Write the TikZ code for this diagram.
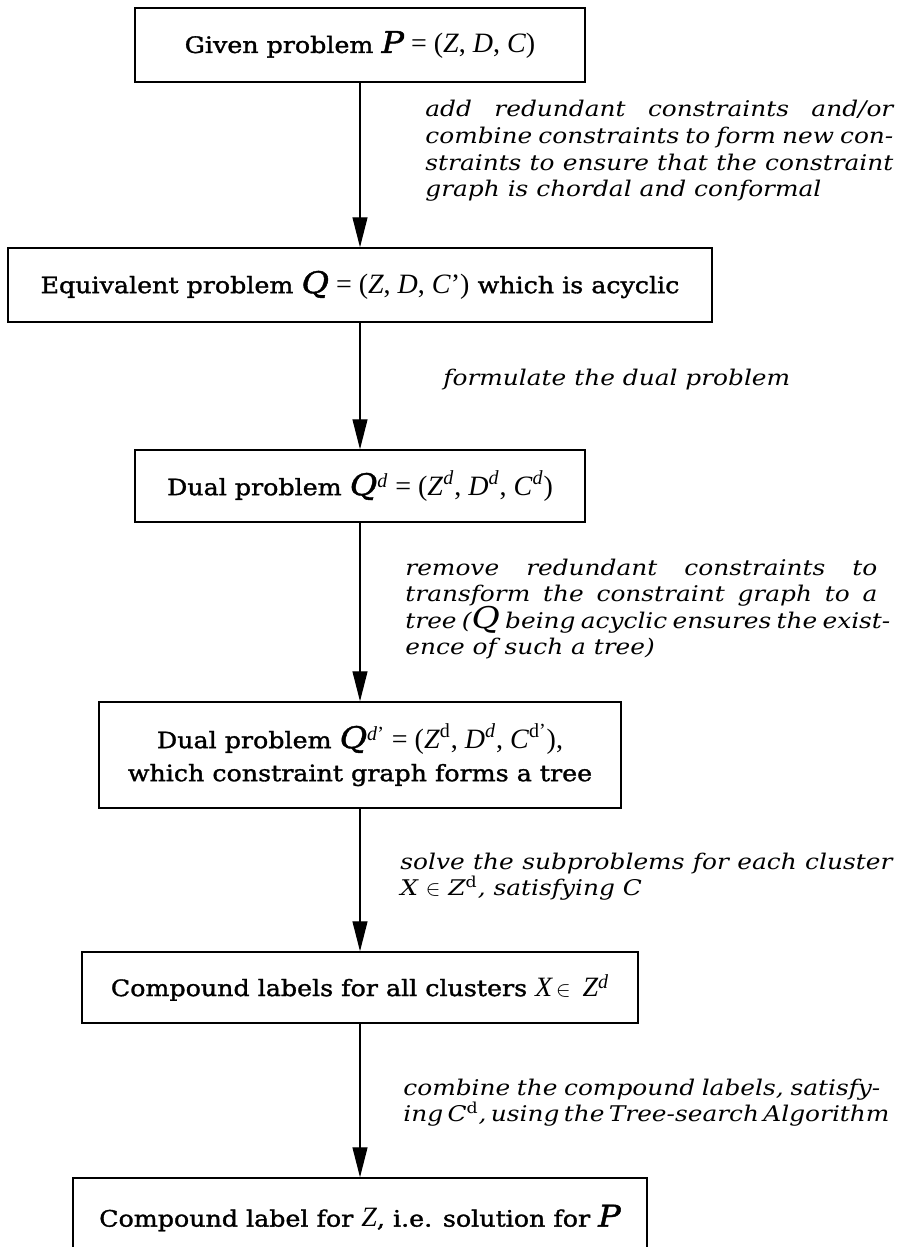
\documentclass[tikz,border=0pt]{standalone}
\usepackage{fontspec}
\setmainfont{DejaVu Serif}
\newfontfamily\boxfont[FakeBold=1.4,FakeStretch=1.12]{DejaVu Serif}
\newfontfamily\notefont[FakeStretch=1.15]{DejaVu Serif}
\newfontfamily\tms{Liberation Serif}
\usetikzlibrary{arrows.meta}

% large italic problem names (P, Q)
\newcommand{\BigV}[1]{{\fontsize{15pt}{15pt}\selectfont\itshape #1}}
% Times italic variable
\newcommand{\TV}[1]{{\tms\fontsize{14pt}{14pt}\selectfont\itshape #1}}
% Times part of a tuple
\newcommand{\TT}[1]{{\tms\fontsize{14pt}{14pt}\selectfont #1}}
% Times superscript
\newcommand{\SU}[1]{\textsuperscript{\tms\fontsize{10pt}{10pt}\selectfont #1}}
% one fully justified line of an annotation
\newcommand{\JL}[1]{\makebox[\linewidth][s]{#1}\par}

\tikzset{
  box/.style={draw, line width=0.75pt, inner sep=0pt, align=center,
    font=\boxfont\fontsize{11.3pt}{16.5pt}\selectfont},
  arr/.style={line width=0.6pt, -{Triangle[length=15pt,width=7.5pt]}},
  note/.style={anchor=base west, inner sep=0pt,
    font=\notefont\fontsize{10.8pt}{13.3pt}\selectfont\itshape},
}

\begin{document}
\begin{tikzpicture}[x=0.5pt,y=-0.5pt]
\clip (0,0) rectangle (905,1247);

\node[box, minimum width=225pt, minimum height=37pt] (b1) at (360,45)
  {Given problem \BigV{P}\TT{ = (\textit{Z}, \textit{D}, \textit{C})}};
\node[box, minimum width=352pt, minimum height=37pt] (b2) at (360,285)
  {Equivalent problem \BigV{Q}\TT{ = (\textit{Z}, \textit{D}, \textit{C}’)} which is acyclic};
\node[box, minimum width=225pt, minimum height=36pt] (b3) at (360,486)
  {Dual problem \BigV{Q}\SU{\textit{d}}\TT{ = (\textit{Z}\SU{\textit{d}}, \textit{D}\SU{\textit{d}}, \textit{C}\SU{\textit{d}})}};
\node[box, minimum width=261pt, minimum height=53pt] (b4) at (360,755)
  {Dual problem \BigV{Q}\SU{\textit{d}’}\TT{ = (\textit{Z}\SU{d}, \textit{D}\SU{\textit{d}}, \textit{C}\SU{d’}),}\\
   which constraint graph forms a tree};
\node[box, minimum width=278pt, minimum height=35.5pt] (b5) at (360,987.5)
  {Compound labels for all clusters \TV{X}\,$\in$\, \TV{Z}\SU{\textit{d}}};
\node[box, minimum width=287pt, minimum height=40pt] (b6) at (360,1218)
  {Compound label for \TV{Z}, i.e. solution for \BigV{P}};

\draw[arr] (b1) -- (b2);
\draw[arr] (b2) -- (b3);
\draw[arr] (b3) -- (b4);
\draw[arr] (b4) -- (b5);
\draw[arr] (b5) -- (b6);

\node[note] (n1) at (425,117) {\parbox[t]{234pt}{\lineskiplimit=-20pt
  \JL{add redundant constraints and/or}
  \JL{combine constraints to form new con-}
  \JL{straints to ensure that the constraint}
  graph is chordal and conformal}};
\node[note] (n2) at (443,385) {formulate the dual problem};
\node[note] (n3) at (405,575) {\parbox[t]{236pt}{\lineskiplimit=-20pt
  \JL{remove redundant constraints to}
  \JL{transform the constraint graph to a}
  \JL{tree ({\upshape\BigV{Q}} being acyclic ensures the exist-}
  ence of such a tree)}};
\node[note] (n4) at (400,869) {\parbox[t]{246pt}{\lineskiplimit=-20pt
  \JL{solve the subproblems for each cluster}
  X $\in$ Z\textsuperscript{\upshape d}, satisfying C}};
\node[note] (n5) at (403,1095) {\parbox[t]{238.5pt}{\lineskiplimit=-20pt
  \JL{combine the compound labels, satisfy-}
  \JL{\spaceskip=0.2em plus 1fil ing C\textsuperscript{\upshape d}, using the Tree-search Algorithm}}};
\end{tikzpicture}
\end{document}
